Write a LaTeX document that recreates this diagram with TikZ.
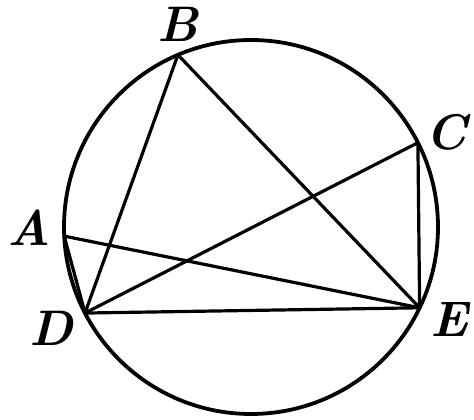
\documentclass[tikz,border=0pt]{standalone}
\usetikzlibrary{calc}
\begin{document}
\begin{tikzpicture}[x=1pt,y=1pt,
  circ/.style={line width=3.8pt},
  chord/.style={line width=3.2pt, line join=round, line cap=round},
  lbl/.style={font=\fontsize{50}{50}\selectfont\bfseries\itshape, inner sep=0pt}]
\useasboundingbox (0,0) rectangle (474,420);
\coordinate (O) at (251,193);
\coordinate (B) at ($(O)+(113:187pt)$);
\coordinate (C) at ($(O)+(26.8:187pt)$);
\coordinate (A) at ($(O)+(182.8:187pt)$);
\coordinate (D) at ($(O)+(207.4:187pt)$);
\coordinate (E) at ($(O)+(-25.6:187pt)$);
\draw[circ] (O) circle[radius=187pt];
\draw[chord] (B) -- (D);
\draw[chord] (B) -- (E);
\draw[chord] (C) -- (D);
\draw[chord] (C) -- (E);
\draw[chord] (A) -- (E);
\draw[chord] (A) -- (D);
\draw[chord] (D) -- (E);
\node[lbl] (lB) at (178,396) {B};
\node[lbl] (lC) at (446,288) {C};
\node[lbl] (lA) at (29,192) {A};
\node[lbl] (lD) at (51,92) {D};
\node[lbl] (lE) at (449,100) {E};
\end{tikzpicture}
\end{document}
